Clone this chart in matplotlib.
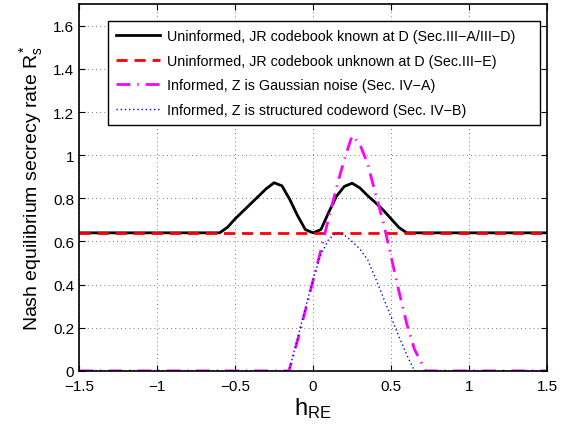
import numpy as np
import matplotlib
matplotlib.use("Agg")
import matplotlib.pyplot as plt
from matplotlib.ticker import FuncFormatter

plt.rcParams['font.family'] = ['Liberation Sans', 'DejaVu Sans']
plt.rcParams['mathtext.fontset'] = 'custom'
plt.rcParams['mathtext.rm'] = 'Liberation Sans'
plt.rcParams['mathtext.it'] = 'Liberation Sans'

# values
x_known = [-1.5, -0.6, -0.55, -0.5, -0.45, -0.4, -0.35, -0.3, -0.25, -0.2, -0.15, -0.1, -0.05,
           0, 0.05, 0.1, 0.15, 0.2, 0.25, 0.3, 0.35, 0.4, 0.45, 0.5, 0.55, 0.6, 1.5]
r_known = [0.64, 0.64, 0.665, 0.705, 0.74, 0.775, 0.81, 0.845, 0.872, 0.858, 0.795, 0.72, 0.655,
           0.64, 0.655, 0.735, 0.81, 0.855, 0.87, 0.848, 0.812, 0.78, 0.745, 0.705, 0.665, 0.64, 0.64]

x_unknown = [-1.5, 1.5]
r_unknown = [0.64, 0.64]

x_gauss = [-1.5, -0.155, -0.1, -0.05, 0, 0.05, 0.1, 0.15, 0.2, 0.25, 0.3, 0.35, 0.4,
           0.45, 0.5, 0.55, 0.6, 0.65, 0.7, 0.72, 1.5]
r_gauss = [0, 0, 0.14, 0.28, 0.42, 0.56, 0.71, 0.85, 0.98, 1.09, 1.05, 0.96, 0.82,
           0.69, 0.53, 0.37, 0.22, 0.10, 0.03, 0, 0]

x_struct = [-1.5, -0.155, -0.1, -0.05, 0, 0.05, 0.1, 0.15, 0.2, 0.25, 0.3, 0.35, 0.4,
            0.45, 0.5, 0.55, 0.6, 0.65, 1.5]
r_struct = [0, 0, 0.15, 0.29, 0.425, 0.54, 0.61, 0.64, 0.63, 0.60, 0.565, 0.515, 0.43,
            0.34, 0.25, 0.16, 0.075, 0, 0]

labels = ['Uninformed, JR codebook known at D (Sec.III\u2212A/III\u2212D)',
          'Uninformed, JR codebook unknown at D (Sec.III\u2212E)',
          'Informed, Z is Gaussian noise (Sec. IV\u2212A)',
          'Informed, Z is structured codeword (Sec. IV\u2212B)']

fig = plt.figure(figsize=(5.74, 4.27), dpi=100)
ax = fig.add_axes([0.138, 0.129, 0.815, 0.859])

ax.plot(x_known, r_known, color='k', lw=2, label=labels[0])
ax.plot(x_unknown, r_unknown, color='r', lw=2, ls=(0, (4, 2.5)), label=labels[1])
ax.plot(x_gauss, r_gauss, color='magenta', lw=2, ls=(0, (5, 2.5, 0.5, 2.5)), label=labels[2])
ax.plot(x_struct, r_struct, color='blue', lw=1, ls=(0, (1, 2)), label=labels[3])

ax.set_xlim(-1.5, 1.5)
ax.set_ylim(0, 1.7)
ax.set_xticks([-1.5, -1, -0.5, 0, 0.5, 1, 1.5])
ax.set_yticks([0, 0.2, 0.4, 0.6, 0.8, 1, 1.2, 1.4, 1.6])
fmt = FuncFormatter(lambda v, p: '%g' % v if v >= 0 else '\u2212%g' % -v)
ax.xaxis.set_major_formatter(fmt)
ax.yaxis.set_major_formatter(fmt)
ax.tick_params(direction='in', top=True, right=True, labelsize=11, length=4)
ax.tick_params(axis='x', pad=6)
ax.grid(True, ls=(0, (1, 4)), color='k', lw=0.6, alpha=0.7)
for s in ax.spines.values():
    s.set_linewidth(1.2)

ax.set_xlabel(r'$\mathregular{h_{RE}}$', fontsize=17, labelpad=1)
ax.set_ylabel(r'Nash equilibrium secrecy rate $\mathregular{R_s^*}$', fontsize=14, labelpad=6)

leg = ax.legend(loc='upper left', bbox_to_anchor=(0.062, 0.684, 0.923, 0.27), mode='expand',
                fontsize=10.3, fancybox=False, edgecolor='k', framealpha=1,
                handlelength=3.1, borderpad=0.55, labelspacing=0.75, handletextpad=0.45,
                borderaxespad=0)
leg.get_frame().set_linewidth(1)

fig.savefig('out.png', dpi=100)
